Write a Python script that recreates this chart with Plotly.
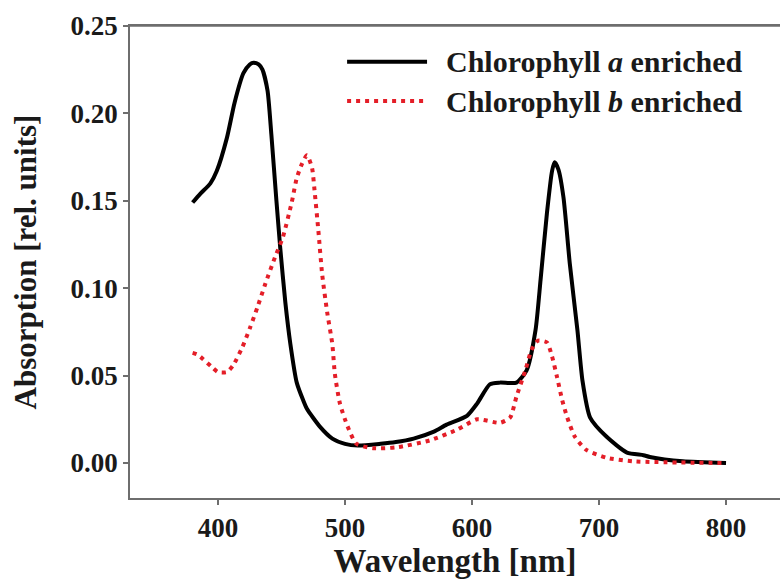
import plotly.graph_objects as go

# Chlorophyll a enriched
wl_a = [380, 386, 394, 399, 407, 413, 420, 425, 428, 432, 435, 439, 442, 446, 449, 453, 457, 462,
        467, 470, 480, 490, 500, 510, 528, 540, 554, 570, 580, 596, 604, 614, 622, 635, 643, 650,
        654, 659, 663, 665, 668, 672, 677, 683, 687, 693, 706, 722, 735, 740, 766, 800]
abs_a = [0.149, 0.154, 0.160, 0.167, 0.186, 0.206, 0.223, 0.228, 0.229, 0.228, 0.225, 0.213, 0.188,
         0.150, 0.123, 0.092, 0.068, 0.046, 0.036, 0.031, 0.021, 0.014, 0.011, 0.010, 0.011, 0.012,
         0.014, 0.018, 0.022, 0.027, 0.034, 0.045, 0.046, 0.046, 0.053, 0.076, 0.105, 0.143, 0.167,
         0.172, 0.168, 0.152, 0.114, 0.076, 0.047, 0.026, 0.015, 0.006, 0.0045, 0.0035, 0.001, 0.0]

# Chlorophyll b enriched
wl_b = [380, 384, 395, 400, 407, 412, 419, 425, 431, 437, 445, 451, 458, 462, 466, 470, 474, 476,
        479, 482, 486, 490, 492, 496, 502, 509, 522, 541, 567, 588, 604, 622, 630, 635, 642, 647,
        652, 659, 663, 667, 671, 675, 681, 690, 706, 727, 800]
abs_b = [0.063, 0.062, 0.055, 0.052, 0.052, 0.056, 0.066, 0.077, 0.089, 0.102, 0.118, 0.129, 0.149,
         0.163, 0.171, 0.176, 0.169, 0.156, 0.133, 0.108, 0.086, 0.068, 0.051, 0.034, 0.021, 0.011,
         0.0085, 0.009, 0.013, 0.019, 0.025, 0.023, 0.026, 0.038, 0.053, 0.065, 0.070, 0.069, 0.061,
         0.049, 0.036, 0.026, 0.015, 0.0075, 0.003, 0.001, 0.0]

x_ticks = [400, 500, 600, 700, 800]
y_ticks = [0.00, 0.05, 0.10, 0.15, 0.20, 0.25]
legend_labels = ["Chlorophyll <i>a</i> enriched", "Chlorophyll <i>b</i> enriched"]

BLACK = "#000000"
RED = "rgb(228,30,40)"
AXIS = "#6e6e6e"
FONT = "Liberation Serif"
TXT = "#1a1a1a"

fig = go.Figure()
fig.add_trace(go.Scatter(x=wl_a, y=abs_a, mode="lines", name=legend_labels[0],
                         line=dict(color=BLACK, width=4, shape="spline", smoothing=0.6),
                         showlegend=False))
fig.add_trace(go.Scatter(x=wl_b, y=abs_b, mode="lines", name=legend_labels[1],
                         line=dict(color=RED, width=4, dash="4px,5px", shape="spline", smoothing=0.6),
                         showlegend=False))

# custom legend (sample lines + labels)
leg_rows = [(0.924, BLACK, "solid"), (0.841, RED, "4px,5px")]
for (yy, col, dash), lab in zip(leg_rows, legend_labels):
    fig.add_shape(type="line", xref="paper", yref="paper", x0=0.334, x1=0.457, y0=yy, y1=yy,
                  line=dict(color=col, width=4, dash=dash))
    fig.add_annotation(xref="paper", yref="paper", x=0.483, y=yy, xanchor="left", yanchor="middle",
                       text="<b>" + lab + "</b>", showarrow=False,
                       font=dict(family=FONT, size=30, color=TXT))

fig.update_layout(
    width=780, height=585,
    margin=dict(l=130, r=0, t=26, b=87),
    paper_bgcolor="white", plot_bgcolor="white",
    font=dict(family=FONT, color=TXT),
)
fig.update_xaxes(
    range=[330.7, 842.5], tickvals=x_ticks, ticktext=[str(v) for v in x_ticks],
    showgrid=False, zeroline=False,
    showline=True, linecolor=AXIS, linewidth=1.5, mirror=True,
    ticks="outside", ticklen=5, tickwidth=1.5, tickcolor=AXIS,
    tickfont=dict(family=FONT, size=27, color=TXT, weight="bold"),
    title=dict(text="<b>Wavelength [nm]</b>", font=dict(family=FONT, size=33, color=TXT), standoff=7),
)
fig.update_yaxes(
    range=[-0.02, 0.25], tickvals=y_ticks, ticktext=["%.2f" % v for v in y_ticks],
    showgrid=False, zeroline=False,
    showline=True, linecolor=AXIS, linewidth=1.5, mirror=False,
    ticks="outside", ticklen=5, tickwidth=1.5, tickcolor=AXIS,
    tickfont=dict(family=FONT, size=27, color=TXT, weight="bold"),
    title=dict(text="<b>Absorption [rel. units]</b>", font=dict(family=FONT, size=31, color=TXT), standoff=25),
)
fig.add_shape(type="line", xref="paper", yref="paper", x0=0, x1=1, y0=1, y1=1,
              line=dict(color=AXIS, width=1.5))

fig.write_html("out.html")
